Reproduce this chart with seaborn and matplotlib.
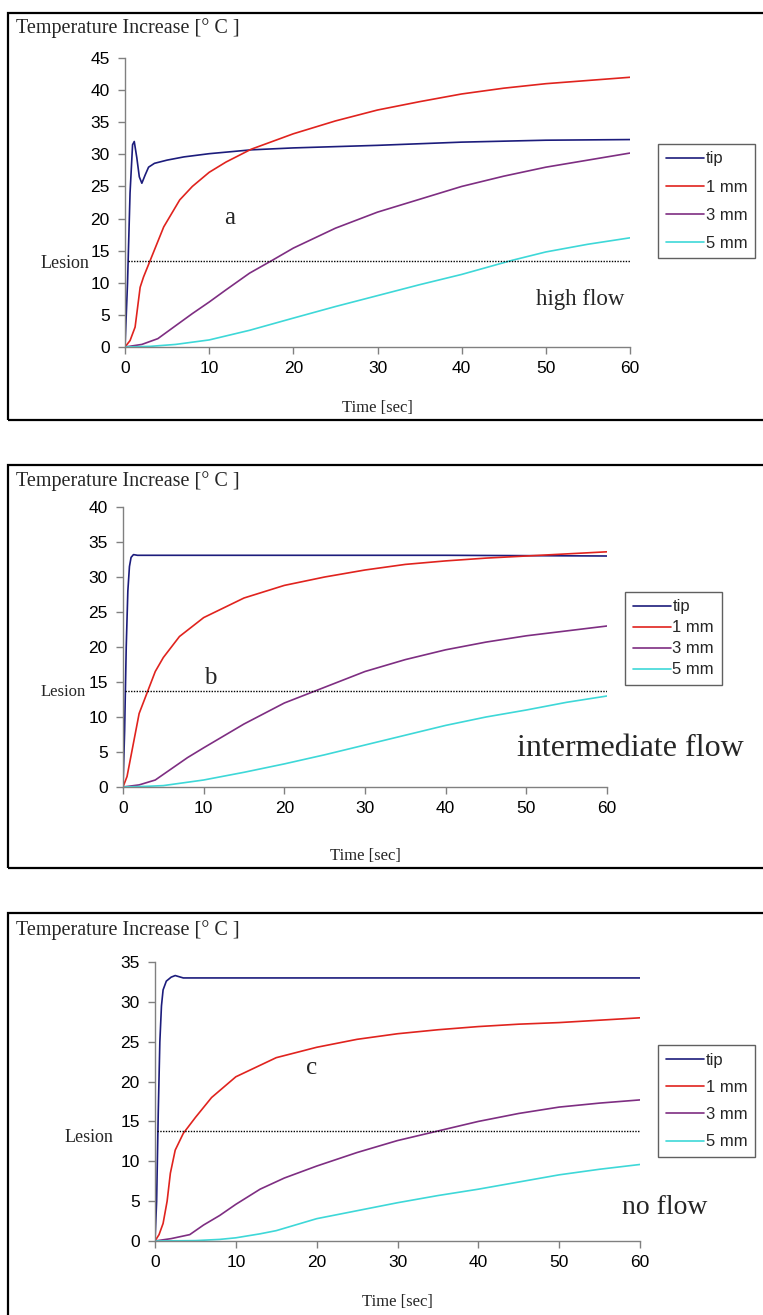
import matplotlib
matplotlib.use("Agg")
import matplotlib.pyplot as plt
import matplotlib.patches as patches
import seaborn as sns
import pandas as pd

# ---- data ----
probes = ["tip", "1 mm", "3 mm", "5 mm"]
colors = ["#1c1c7c", "#e0231e", "#7e2e82", "#3ed8d8"]

# panel a - high flow
a_tip_t = [0, 0.3, 0.6, 0.9, 1.1, 1.4, 1.7, 2.0, 2.4, 2.8, 3.5, 5, 7, 10, 15, 20, 30, 40, 50, 60]
a_tip_y = [0, 10, 24, 31.5, 32, 29.5, 26.5, 25.5, 26.8, 28, 28.6, 29.1, 29.6, 30.1, 30.7, 31.0, 31.4, 31.9, 32.2, 32.3]
a_1mm_t = [0, 0.6, 1.2, 1.8, 2.2, 3, 4.6, 6.5, 8, 10, 12, 15, 20, 25, 30, 35, 40, 45, 50, 55, 60]
a_1mm_y = [0, 1.0, 3.1, 9.3, 10.9, 13.5, 18.7, 22.9, 25.0, 27.2, 28.8, 30.8, 33.2, 35.2, 36.9, 38.2, 39.4, 40.3, 41.0, 41.5, 42.0]
a_3mm_t = [0, 2, 3.9, 6, 8, 10, 12, 14.8, 17.5, 20, 25, 30, 35, 40, 45, 50, 55, 60]
a_3mm_y = [0, 0.4, 1.3, 3.3, 5.2, 7.0, 8.9, 11.5, 13.5, 15.4, 18.5, 21.0, 23.0, 25.0, 26.6, 28.0, 29.1, 30.2]
a_5mm_t = [0, 3, 6, 10, 14.8, 20, 25, 30, 35, 40, 46, 50, 55, 60]
a_5mm_y = [0, 0.1, 0.4, 1.1, 2.6, 4.5, 6.3, 8.0, 9.7, 11.3, 13.5, 14.8, 16.0, 17.0]
a_lesion = 13.4

# panel b - intermediate flow
b_tip_t = [0, 0.2, 0.4, 0.6, 0.8, 1.0, 1.3, 1.8, 5, 20, 40, 60]
b_tip_y = [0, 8, 20, 28, 31.5, 32.8, 33.2, 33.1, 33.1, 33.1, 33.1, 33.0]
b_1mm_t = [0, 0.5, 1, 1.5, 2, 3, 4, 5, 7, 10, 15, 20, 25, 30, 35, 40, 45, 50, 55, 60]
b_1mm_y = [0, 1.5, 4.5, 7.5, 10.5, 13.5, 16.5, 18.5, 21.5, 24.2, 27.0, 28.8, 30.0, 31.0, 31.8, 32.3, 32.7, 33.0, 33.3, 33.6]
b_3mm_t = [0, 2, 4, 6, 8, 10, 15, 20, 24, 30, 35, 40, 45, 50, 55, 60]
b_3mm_y = [0, 0.3, 1.0, 2.6, 4.2, 5.6, 9.0, 12.0, 13.8, 16.5, 18.2, 19.6, 20.7, 21.6, 22.3, 23.0]
b_5mm_t = [0, 3, 5, 10, 15, 20, 25, 30, 35, 40, 45, 50, 55, 60]
b_5mm_y = [0, 0.1, 0.2, 1.0, 2.1, 3.3, 4.6, 6.0, 7.4, 8.8, 10.0, 11.0, 12.1, 13.0]
b_lesion = 13.7

# panel c - no flow
c_tip_t = [0, 0.2, 0.4, 0.6, 0.8, 1.0, 1.4, 2.0, 2.5, 3.5, 10, 30, 50, 60]
c_tip_y = [0, 5, 16, 25, 29.5, 31.5, 32.6, 33.1, 33.3, 33.0, 33.0, 33.0, 33.0, 33.0]
c_1mm_t = [0, 0.5, 1, 1.5, 1.9, 2.5, 3.5, 5, 7, 10, 15, 20, 25, 30, 35, 40, 45, 50, 55, 60]
c_1mm_y = [0, 0.8, 2.2, 5.0, 8.5, 11.4, 13.5, 15.5, 18.0, 20.6, 23.0, 24.3, 25.3, 26.0, 26.5, 26.9, 27.2, 27.4, 27.7, 28.0]
c_3mm_t = [0, 2, 4.3, 6, 8, 10, 13, 16, 20, 25, 30, 35, 40, 45, 50, 55, 60]
c_3mm_y = [0, 0.3, 0.8, 2.0, 3.2, 4.6, 6.5, 7.9, 9.4, 11.1, 12.6, 13.8, 15.0, 16.0, 16.8, 17.3, 17.7]
c_5mm_t = [0, 5, 8, 10, 13, 15, 20, 25, 30, 35, 40, 45, 50, 55, 60]
c_5mm_y = [0, 0.05, 0.2, 0.4, 0.9, 1.3, 2.8, 3.8, 4.8, 5.7, 6.5, 7.4, 8.3, 9.0, 9.6]
c_lesion = 13.8

y_max = [45, 40, 35]
panel_letters = ["a", "b", "c"]
flow_labels = ["high flow", "intermediate flow", "no flow"]


def long_df(series):
    frames = []
    for name, (t, y) in zip(probes, series):
        frames.append(pd.DataFrame({"t": t, "T": y, "probe": name}))
    return pd.concat(frames, ignore_index=True)


panels = [
    long_df([(a_tip_t, a_tip_y), (a_1mm_t, a_1mm_y), (a_3mm_t, a_3mm_y), (a_5mm_t, a_5mm_y)]),
    long_df([(b_tip_t, b_tip_y), (b_1mm_t, b_1mm_y), (b_3mm_t, b_3mm_y), (b_5mm_t, b_5mm_y)]),
    long_df([(c_tip_t, c_tip_y), (c_1mm_t, c_1mm_y), (c_3mm_t, c_3mm_y), (c_5mm_t, c_5mm_y)]),
]
lesions = [a_lesion, b_lesion, c_lesion]

sns.set_style("white")
plt.rcParams["font.family"] = ["Liberation Sans", "DejaVu Sans"]
serif = ["Liberation Serif", "DejaVu Serif"]

W, H = 763, 1315
fig = plt.figure(figsize=(W / 100, H / 100), dpi=100)

# layout in pixels: axes (left, right, top, bottom), box (top, bottom)
axes_px = [(125, 630, 58, 347), (123, 607, 507, 787), (155, 640, 962, 1241)]
box_px = [(13, 420), (465, 868), (913, 1340)]
legend_px = [(658, 144, 0.78), (625, 592, 0.36), (658, 1045, 0.74)]
title_px = [28, 481, 930]
lesion_px = [(89, 264), (86, 692), (113, 1138)]
lesion_size = [13, 12, 13]
letter_px = [(230, 218), (210, 678), (312, 1068)]
flow_px = [(580, 300), (630, 748), (665, 1208)]
flow_size = [16.5, 23, 20]
time_px = [408, 856, 1302]

pal = dict(zip(probes, colors))

for i in range(3):
    l, r, t, b = axes_px[i]
    ax = fig.add_axes([l / W, 1 - b / H, (r - l) / W, (b - t) / H])
    sns.lineplot(data=panels[i], x="t", y="T", hue="probe", palette=pal,
                 estimator=None, sort=False, legend=False, linewidth=1.2, ax=ax)
    handles = list(ax.get_lines())
    ax.plot([0.3, 60], [lesions[i], lesions[i]], color="black", lw=1.0, ls=(0, (1, 1)))

    ax.set_xlim(0, 60)
    ax.set_ylim(0, y_max[i])
    ax.set_xticks(range(0, 61, 10))
    ax.set_yticks(range(0, y_max[i] + 1, 5))
    ax.set_xlabel("")
    ax.set_ylabel("")
    for s in ["top", "right"]:
        ax.spines[s].set_visible(False)
    for s in ["left", "bottom"]:
        ax.spines[s].set_color("#808080")
        ax.spines[s].set_linewidth(1.0)
    ax.tick_params(axis="both", direction="out", length=5, width=1.0, color="#808080",
                   labelsize=12.5, labelcolor="black", pad=6, left=True, bottom=True)
    ax.tick_params(axis="x", pad=5)
    ax.patch.set_alpha(0)

    lx, ly, sp = legend_px[i]
    ax.legend(handles, probes, loc="upper left", bbox_to_anchor=(lx / W, 1 - ly / H),
              bbox_transform=fig.transFigure, fontsize=12, frameon=True, fancybox=False,
              edgecolor="#606060", framealpha=1, handlelength=2.3, handletextpad=0.1,
              labelspacing=sp, borderpad=0.45, borderaxespad=0)

    bt, bb = box_px[i]
    fig.patches.append(patches.Rectangle((8 / W, 1 - bb / H), 1.1, (bb - bt) / H,
                                         transform=fig.transFigure, fill=False,
                                         edgecolor="black", linewidth=1.6, clip_on=False))

    fig.text(16 / W, 1 - title_px[i] / H, "Temperature Increase [° C ]", family=serif,
             fontsize=14.5, va="center", ha="left")
    fig.text(lesion_px[i][0] / W, 1 - lesion_px[i][1] / H, "Lesion", family=serif,
             fontsize=lesion_size[i], va="center", ha="right")
    fig.text(letter_px[i][0] / W, 1 - letter_px[i][1] / H, panel_letters[i], family=serif,
             fontsize=18, va="center", ha="center")
    fig.text(flow_px[i][0] / W, 1 - flow_px[i][1] / H, flow_labels[i], family=serif,
             fontsize=flow_size[i], va="center", ha="center")
    fig.text((l + r) / 2 / W, 1 - time_px[i] / H, "Time [sec]", family=serif,
             fontsize=12, va="center", ha="center")

fig.savefig("out.png", dpi=100, facecolor="white")
